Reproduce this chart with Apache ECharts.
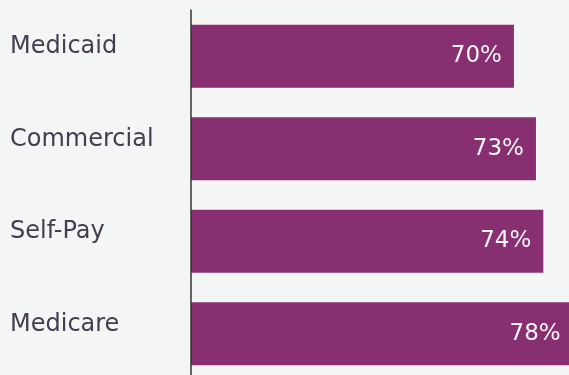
<!DOCTYPE html>
<html>
<head>
<meta charset="utf-8">
<script src="https://cdn.jsdelivr.net/npm/echarts@6/dist/echarts.min.js"></script>
<style>
html,body{margin:0;padding:0;background:#f4f5f5;}
#chart{width:569px;height:375px;}
</style>
</head>
<body>
<div id="chart"></div>
<script>
const categories = ["Medicaid", "Commercial", "Self-Pay", "Medicare"];
const values = [70, 73, 74, 78];

const chart = echarts.init(document.getElementById('chart'), null, {renderer: 'canvas'});
chart.setOption({
  backgroundColor: '#f4f5f5',
  animation: false,
  grid: {left: 191, top: 10, height: 370, width: 389, containLabel: false, outerBoundsMode: 'none'},
  xAxis: {
    type: 'value', min: 26, max: 79,
    show: false
  },
  yAxis: {
    type: 'category', data: categories, inverse: true, z: 5,
    axisLine: {show: true, lineStyle: {color: '#333333', width: 1.5}},
    axisTick: {show: false},
    axisLabel: {
      align: 'left', margin: 181, verticalAlign: 'bottom', lineHeight: 18,
      color: '#443e50', fontFamily: 'DejaVu Sans', fontWeight: 'normal', fontSize: 24
    }
  },
  series: [{
    type: 'bar', data: values, barWidth: 63, clip: true,
    itemStyle: {color: '#872f71'},
    label: {
      show: true, position: 'insideRight', distance: 12,
      formatter: '{c}%', color: '#f8f4f8', fontFamily: 'DejaVu Sans', fontWeight: 'normal', fontSize: 23
    }
  }]
});
</script>
</body>
</html>
